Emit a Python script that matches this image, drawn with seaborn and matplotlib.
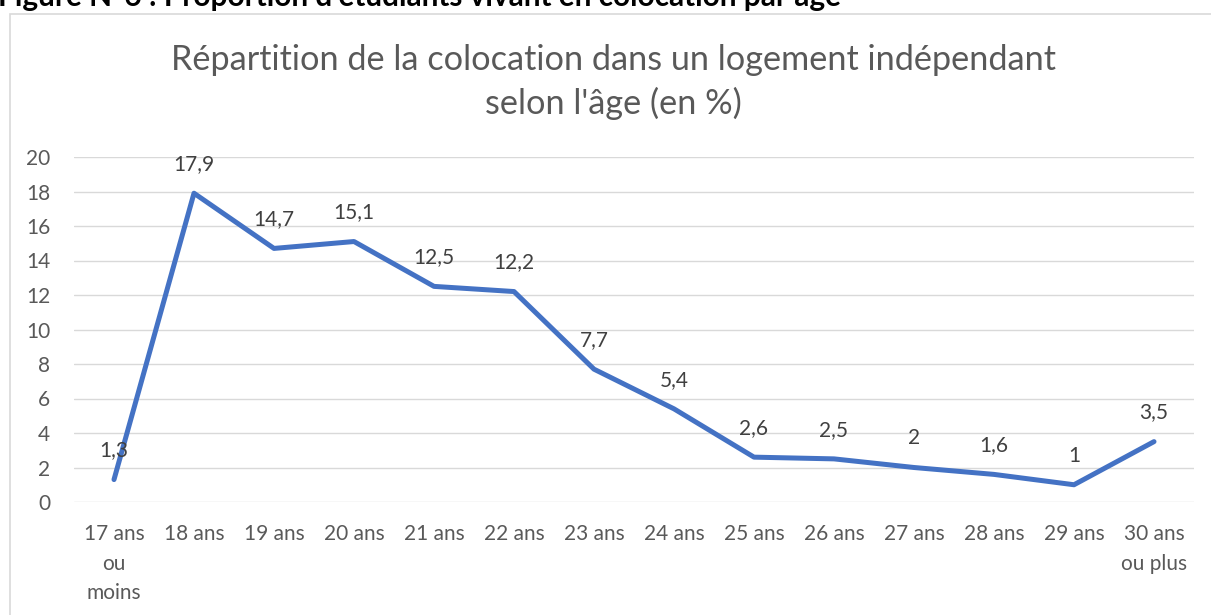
import numpy as np
import pandas as pd
import seaborn as sns
import matplotlib.pyplot as plt
from matplotlib.patches import Rectangle

# data
ages = ['17 ans\nou\nmoins', '18 ans', '19 ans', '20 ans', '21 ans', '22 ans', '23 ans',
        '24 ans', '25 ans', '26 ans', '27 ans', '28 ans', '29 ans', '30 ans\nou plus']
pct = [1.3, 17.9, 14.7, 15.1, 12.5, 12.2, 7.7, 5.4, 2.6, 2.5, 2.0, 1.6, 1.0, 3.5]
yticks = [0, 2, 4, 6, 8, 10, 12, 14, 16, 18, 20]

df = pd.DataFrame({'age': ages, 'pct': pct, 'pos': np.arange(len(ages))})

sns.set_style('white')
plt.rcParams['font.family'] = ['Lato', 'DejaVu Sans']

W, H = 1211, 615
fig = plt.figure(figsize=(W / 100, H / 100), dpi=100)
ax = fig.add_axes([74 / W, 113 / H, 1120 / W, 345 / H])

# chart frame, cut by the page edges
fig.patches.append(Rectangle((10 / W, -0.1), 1.2, 1 - 14 / H + 0.1, transform=fig.transFigure,
                             fill=False, edgecolor='#D9D9D9', linewidth=1.2))

sns.lineplot(data=df, x='pos', y='pct', ax=ax, color='#4472C4', linewidth=3.6,
             solid_capstyle='round', solid_joinstyle='round', zorder=3)

for x, y in zip(df['pos'], df['pct']):
    lab = ('%g' % y).replace('.', ',')
    ax.annotate(lab, (x, y), xytext=(0, 21), textcoords='offset points',
                ha='center', va='center', fontsize=15, color='#404040', zorder=4)

ax.set_xlim(-0.5, len(ages) - 0.5)
ax.set_ylim(0, 20)
ax.set_yticks(yticks)
ax.set_xticks(df['pos'])
ax.set_xticklabels(ages, linespacing=1.58, va='top')
ax.grid(axis='y', color='#D9D9D9', linewidth=1)
ax.set_axisbelow(True)
for s in ax.spines.values():
    s.set_visible(False)
ax.tick_params(axis='both', length=0, labelsize=15, colors='#595959')
ax.tick_params(axis='x', pad=16)
ax.tick_params(axis='y', pad=17)
ax.set_xlabel('')
ax.set_ylabel('')

fig.text(0.5 + 8 / W, 1 - 60 / H, "Répartition de la colocation dans un logement indépendant",
         ha='center', va='center', fontsize=24.7, color='#595959')
fig.text(0.5 + 8 / W, 1 - 103 / H, "selon l'âge (en %)",
         ha='center', va='center', fontsize=24.7, color='#595959')

# heading of the page, cut off at the top
fig.text(-2 / W, 1 - 6 / H, "Figure N°6 : Proportion d'étudiants vivant en colocation par âge",
         ha='left', va='baseline', fontsize=21.4, fontweight='bold', color='black')

fig.savefig('out.png', dpi=100)
